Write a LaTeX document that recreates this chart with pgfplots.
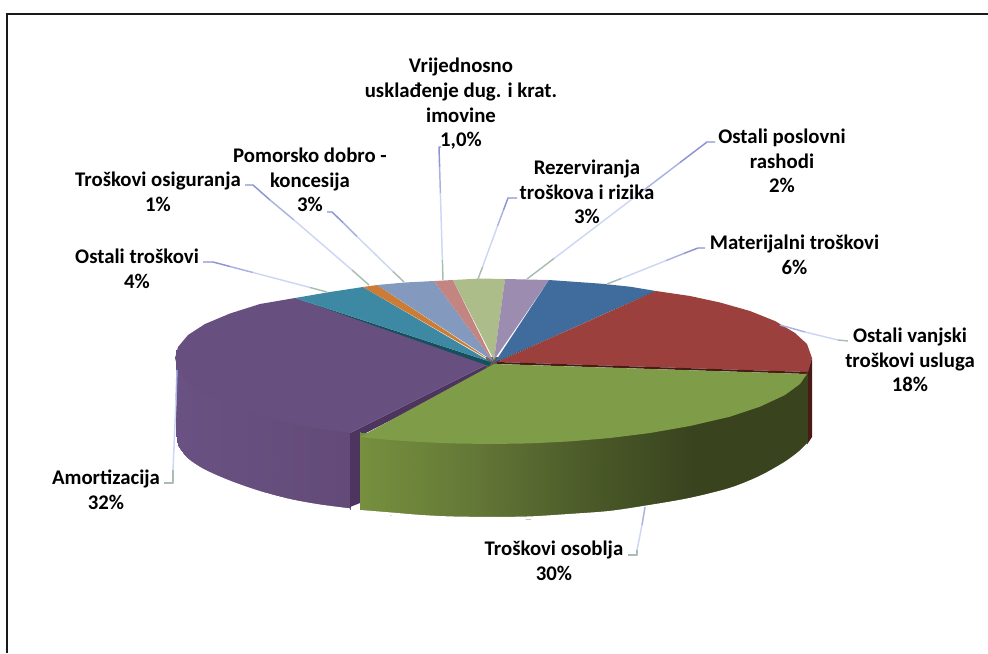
\documentclass[border=0pt]{standalone}
\usepackage{fontspec}
\setmainfont{Carlito}
\usepackage{pgfplots}
\pgfplotsset{compat=1.18}

\definecolor{cPurple}{RGB}{103,80,128}
\definecolor{cPurpleD}{RGB}{77,53,96}
\definecolor{cGreen}{RGB}{127,156,72}
\definecolor{cRed}{RGB}{156,64,61}
\definecolor{cRedD}{RGB}{74,26,23}
\definecolor{cBlue}{RGB}{63,107,157}
\definecolor{cBlueD}{RGB}{36,66,104}
\definecolor{cLilac}{RGB}{156,141,176}
\definecolor{cOlive}{RGB}{172,189,138}
\definecolor{cPink}{RGB}{194,133,130}
\definecolor{cSteel}{RGB}{131,153,189}
\definecolor{cOrange}{RGB}{204,124,52}
\definecolor{cTeal}{RGB}{61,137,163}
\definecolor{cTealD}{RGB}{23,79,92}
\definecolor{ldA}{RGB}{140,148,210}
\definecolor{ldM}{RGB}{170,178,228}
\definecolor{ldB}{RGB}{205,214,244}
\definecolor{ldC}{RGB}{168,190,178}

\pgfplotsset{
  colormap={gwall}{rgb255=(118,144,62) rgb255=(100,120,55) rgb255=(76,91,41) rgb255=(57,67,30) rgb255=(57,67,30)},
  colormap={pwall}{rgb255=(105,82,131) rgb255=(99,74,120)},
}
\tikzset{
  face/.style={draw=none},
  lab/.style={font=\fontsize{15.6}{18.45}\selectfont\bfseries, align=center, text=black, inner sep=0pt},
  lead/.style={line width=1.1pt, line join=round},
  trim/.style={white, line width=2.4pt, line join=round, smooth},
}

\begin{document}
\begin{tikzpicture}
\begin{axis}[
  scale only axis, width=741pt, height=489.75pt,
  xmin=0, xmax=988, ymin=0, ymax=653, y dir=reverse,
  hide axis, point meta min=0, point meta max=1,
]
% frame
\addplot[draw=black!90, line width=1pt] coordinates {(7,653)(7,14)(988,14)};

% purple wall
\addplot[surf, shader=interp, colormap name=pwall, mesh/rows=2, point meta=explicit]
  table[meta=c] {
x y c
175.5 350 0
178.5 362 0.02
188 376 0.07
205 388 0.17
230 400 0.31
260 410 0.49
290 418 0.66
320 424 0.83
350 428 1
175.5 434 0
178.5 446 0.02
188 459 0.07
205 470 0.17
230 481 0.31
260 491 0.49
290 499 0.66
320 504.5 0.83
350 509 1
};
% white trim along the lower edge of the shaded wall, keeps the edge clean
\addplot[trim] coordinates {(173,432)(176,445.5)(186,459)(203,470.5)(229,482)(259,492.5)(289,500.5)(319,506)(350,510)};
% purple cut face
\addplot[face, fill=cPurpleD] coordinates {(350,433)(488,364)(497,366)(360,436)(360,503)(350,507)};
% purple top
\addplot[face, fill=cPurple] coordinates {(488,364)(295,298)(260,304)(230,313.5)(205,324)(188,335)(178,347)(175,358)(178,370)(188,383)(205,394)(230,405)(260,415)(290,423)(320,428.5)(350,433)};

% dark hub where the slices meet
\addplot[face, fill=black!65] coordinates {(486,357)(500,357)(500,368)(486,368)};

% back slices
\addplot[face, fill=cTealD] coordinates {(295,298)(491,362)(489,366)(301,300)};
\addplot[face, fill=cTeal] coordinates {(491,362)(295,298)(330,292)(363,287)};
\addplot[face, fill=cOrange] coordinates {(493,362)(363,287)(377,285)};
\addplot[face, fill=cSteel] coordinates {(493,361)(377,285)(405,282.5)(434,281)};
\addplot[face, fill=cPink] coordinates {(493,361)(434,281)(453,280)};
\addplot[face, fill=cOlive] coordinates {(494,360)(453,280)(480,278.5)(505,279)};
\addplot[face, fill=cLilac] coordinates {(494,360)(505,279)(549,280)};
\addplot[face, fill=cBlue] coordinates {(495,362)(549,280)(600,283.6)(630,286.7)(656,291)};
\addplot[face, fill=cBlueD] coordinates {(495,362)(656,291)(653,292)(497,362)};
\addplot[face, fill=cRedD] coordinates {(812,358)(812,437)(808,443)(807,373)};
\addplot[face, fill=cRed] coordinates {(497,362)(656,291)(690,296)(720,302.5)(750,311)(775,321)(795,333)(807,344)(812,358)(808,372)};
\addplot[face, fill=cRedD] coordinates {(497,362)(808,372)(807,374)(497,364)};

% green wall
\addplot[surf, shader=interp, colormap name=gwall, mesh/rows=2, point meta=explicit]
  table[meta=c] {
x y c
360 432 0
390 435 0.07
420 437 0.13
450 438 0.2
490 439 0.29
530 438 0.38
570 436 0.47
610 433 0.56
650 428 0.65
690 421 0.74
730 412 0.83
760 402 0.89
785 390 0.95
800 379 0.98
807 372 1
360 512 0
390 514.5 0.07
420 517 0.13
450 518 0.2
490 519 0.29
530 518.5 0.38
570 516 0.47
610 513 0.56
650 507 0.65
690 500 0.74
730 490 0.83
760 478 0.89
785 464 0.95
800 453 0.98
807 445 1
};
\addplot[trim] coordinates {(359,511.5)(390,514)(420,516.5)(450,518)(490,518.5)(530,518)(570,515.5)(610,512.5)(650,506.5)(690,499.5)(730,489.5)(760,477.5)(785,463.5)(800,452.5)(808,444.5)};
% green top
\addplot[face, fill=cGreen] coordinates {(494,364)(807,374)(800,384)(785,395)(760,406.7)(730,416.7)(690,426)(650,433)(610,438)(570,441.4)(530,443.4)(490,444)(450,443.4)(420,442)(390,440)(360,437)};

% leader lines
\addplot[lead, ldA] coordinates {(715,142)(707,142)(680,162.5)};
\addplot[lead, ldM] coordinates {(680,162.5)(644,190)};
\addplot[lead, ldB] coordinates {(644,190)(554,258.5)};
\addplot[lead, ldC] coordinates {(554,258.5)(527,279)};

\addplot[lead, ldA] coordinates {(705,248)(698,248)(684,253.4)};
\addplot[lead, ldM] coordinates {(684,253.4)(666,260.6)};
\addplot[lead, ldB] coordinates {(666,260.6)(621,278.6)};
\addplot[lead, ldC] coordinates {(621,278.6)(607,284)};

\addplot[lead, ldA] coordinates {(517,198)(508,198)(503.5,210)};
\addplot[lead, ldM] coordinates {(503.5,210)(497.5,226)};
\addplot[lead, ldB] coordinates {(497.5,226)(482.5,267)};
\addplot[lead, ldC] coordinates {(482.5,267)(478,279)};

\addplot[lead, ldA] coordinates {(441,147)(439,147)(439.6,167)};
\addplot[lead, ldM] coordinates {(439.6,167)(440.4,193.5)};
\addplot[lead, ldB] coordinates {(440.4,193.5)(442.4,260)};
\addplot[lead, ldC] coordinates {(442.4,260)(443,280)};

\addplot[lead, ldA] coordinates {(327,212)(332,212)(343,222.5)};
\addplot[lead, ldM] coordinates {(343,222.5)(357,236.5)};
\addplot[lead, ldB] coordinates {(357,236.5)(393,271.5)};
\addplot[lead, ldC] coordinates {(393,271.5)(404,282)};

\addplot[lead, ldA] coordinates {(245,185)(253,185)(270,200)};
\addplot[lead, ldM] coordinates {(270,200)(294,220)};
\addplot[lead, ldB] coordinates {(294,220)(352,270)};
\addplot[lead, ldC] coordinates {(352,270)(369,285)};

\addplot[lead, ldA] coordinates {(203,262)(213,262)(230,266.5)};
\addplot[lead, ldM] coordinates {(230,266.5)(253,272.5)};
\addplot[lead, ldB] coordinates {(253,272.5)(310,287.5)};
\addplot[lead, ldC] coordinates {(310,287.5)(327,292)};

\addplot[lead, ldM] coordinates {(780,325)(805,332)};
\addplot[lead, ldB] coordinates {(805,332)(838,340)};
\addplot[lead, ldC] coordinates {(838,340)(848,341)};

\addplot[lead, ldM] coordinates {(177,370)(176,400)};
\addplot[lead, ldB] coordinates {(176,400)(173,470)};
\addplot[lead, ldC] coordinates {(173,470)(173,483)(164,483)};

\addplot[lead, ldM] coordinates {(645,507)(642,525)};
\addplot[lead, ldB] coordinates {(642,525)(637,550)};
\addplot[lead, ldC] coordinates {(637,550)(637,555)(628,555)};

% labels
\node[lab] at (axis cs:461,104) {Vrijednosno\\usklađenje dug. i krat.\\imovine\\1,0\%};
\node[lab] at (axis cs:782,161) {Ostali poslovni\\rashodi\\2\%};
\node[lab] at (axis cs:587,192) {Rezerviranja\\troškova i rizika\\3\%};
\node[lab] at (axis cs:794.5,255) {Materijalni troškovi\\6\%};
\node[lab] at (axis cs:910,360) {Ostali vanjski\\troškovi usluga\\18\%};
\node[lab] at (axis cs:554,561) {Troškovi osoblja\\30\%};
\node[lab] at (axis cs:106,490) {Amortizacija\\32\%};
\node[lab] at (axis cs:137,269) {Ostali troškovi\\4\%};
\node[lab] at (axis cs:158,192) {Troškovi osiguranja\\1\%};
\node[lab] at (axis cs:310,180) {Pomorsko dobro -\\koncesija\\3\%};
\end{axis}
\path (current axis.south west) rectangle (current axis.north east);
\end{tikzpicture}
\end{document}
